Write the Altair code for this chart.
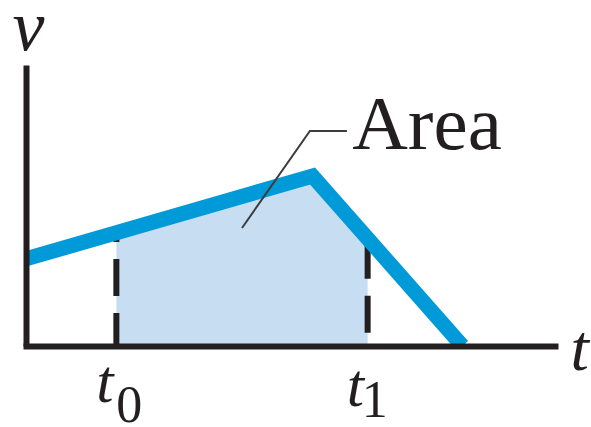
import altair as alt
import pandas as pd

# Velocity curve: rises linearly to a peak, then falls to zero
t_curve = [0.0, 6.5, 9.9]
v_curve = [3.1, 6.05, 0.0]

# Interval bounds t0, t1 and the velocity at each
t_bounds = [2.05, 7.75]
v_bounds = [4.0, 3.85]
bound_subscripts = ["0", "1"]

# Shaded region under the curve between t0 and t1
t_shade = [2.05, 6.5, 7.75]
v_shade = [4.0, 6.05, 3.85]

# Leader line from the shaded region to its label
t_leader = [4.9, 6.44, 7.28]
v_leader = [4.2, 7.65, 7.65]
area_text = "Area"
area_text_t = [7.4]
area_text_v = [7.01]

INK = "#231f20"
BLUE = "#009ad9"
SHADE = "#c6ddf2"
SERIF = "Liberation Serif"

x_scale = alt.Scale(domain=[0, 12], nice=False, zero=False)
y_scale = alt.Scale(domain=[0, 10], nice=False, zero=False)

x_axis = alt.Axis(
    title="t", labels=False, ticks=False, grid=False,
    domainWidth=6, domainColor=INK, domainCap="square", zindex=1,
    titleFont=SERIF, titleFontStyle="italic", titleFontWeight="normal",
    titleFontSize=66, titleColor=INK, titleAlign="left",
    titleBaseline="alphabetic", titleX=544, titleY=23,
)
y_axis = alt.Axis(
    title="v", labels=False, ticks=False, grid=False,
    domainWidth=6, domainColor=INK, zindex=1,
    titleFont=SERIF, titleFontStyle="italic", titleFontWeight="normal",
    titleFontSize=72, titleColor=INK, titleAngle=0, titleAlign="center",
    titleBaseline="alphabetic", titleX=2, titleY=-16,
)


def X(field="t"):
    return alt.X(f"{field}:Q", scale=x_scale, axis=x_axis)


def Y(field="v"):
    return alt.Y(f"{field}:Q", scale=y_scale, axis=y_axis, stack=None)


shade_df = pd.DataFrame({"t": t_shade, "v": v_shade})
curve_df = pd.DataFrame({"t": t_curve, "v": v_curve})
leader_df = pd.DataFrame({"t": t_leader, "v": v_leader, "k": range(len(t_leader))})
bounds_df = pd.DataFrame({"t": t_bounds, "v": v_bounds, "base": [0.0, 0.0],
                          "sub": bound_subscripts})

shade = alt.Chart(shade_df).mark_area(color=SHADE).encode(x=X(), y=Y())

curve = alt.Chart(curve_df).mark_line(
    color=BLUE, strokeWidth=15, strokeJoin="miter", strokeCap="butt", clip=True
).encode(x=X(), y=Y())


# Dashed verticals, each drawn downward from the curve to the time axis
def bound_rule(i, dash_offset):
    return alt.Chart(bounds_df.iloc[[i]]).mark_rule(
        color=INK, strokeWidth=6, strokeDash=[37, 17],
        strokeDashOffset=dash_offset, strokeCap="butt",
    ).encode(x=X(), y=Y("v"), y2="base:Q")


rule0 = bound_rule(0, 28.6)
rule1 = bound_rule(1, 50)

leader = alt.Chart(leader_df).mark_line(color="#3c3c3c", strokeWidth=2).encode(
    x=X(), y=Y(), order="k:Q",
)

area_label = alt.Chart(
    pd.DataFrame({"t": area_text_t, "v": area_text_v, "s": [area_text]})
).mark_text(
    font=SERIF, fontSize=77, color=INK, align="left", baseline="alphabetic"
).encode(x=X(), y=Y(), text="s:N")


def bound_label(i, t_dx, t_dy, s_dx, s_dy):
    row = bounds_df.iloc[[i]]
    base = alt.Chart(row).encode(x=X(), y=Y("base"))
    t_part = base.mark_text(
        font=SERIF, fontStyle="italic", fontSize=62, color=INK,
        align="left", baseline="alphabetic", dx=t_dx, dy=t_dy, text="t",
    )
    s_part = base.mark_text(
        font=SERIF, fontSize=52, color=INK,
        align="left", baseline="alphabetic", dx=s_dx, dy=s_dy,
    ).encode(text="sub:N")
    return t_part + s_part


label0 = bound_label(0, -20, 56, 0, 76)
label1 = bound_label(1, -21, 60, -6, 71)

chart = alt.layer(
    shade, rule0, rule1, curve, leader, area_label, label0, label1
).properties(
    width=529, height=281,
    padding={"left": 26, "top": 65, "right": 36, "bottom": 81},
    autosize=alt.AutoSizeParams(type="none"),
    background="white",
).configure_view(stroke=None)

chart.save("out.html", embed_options={"renderer": "svg", "actions": False})
